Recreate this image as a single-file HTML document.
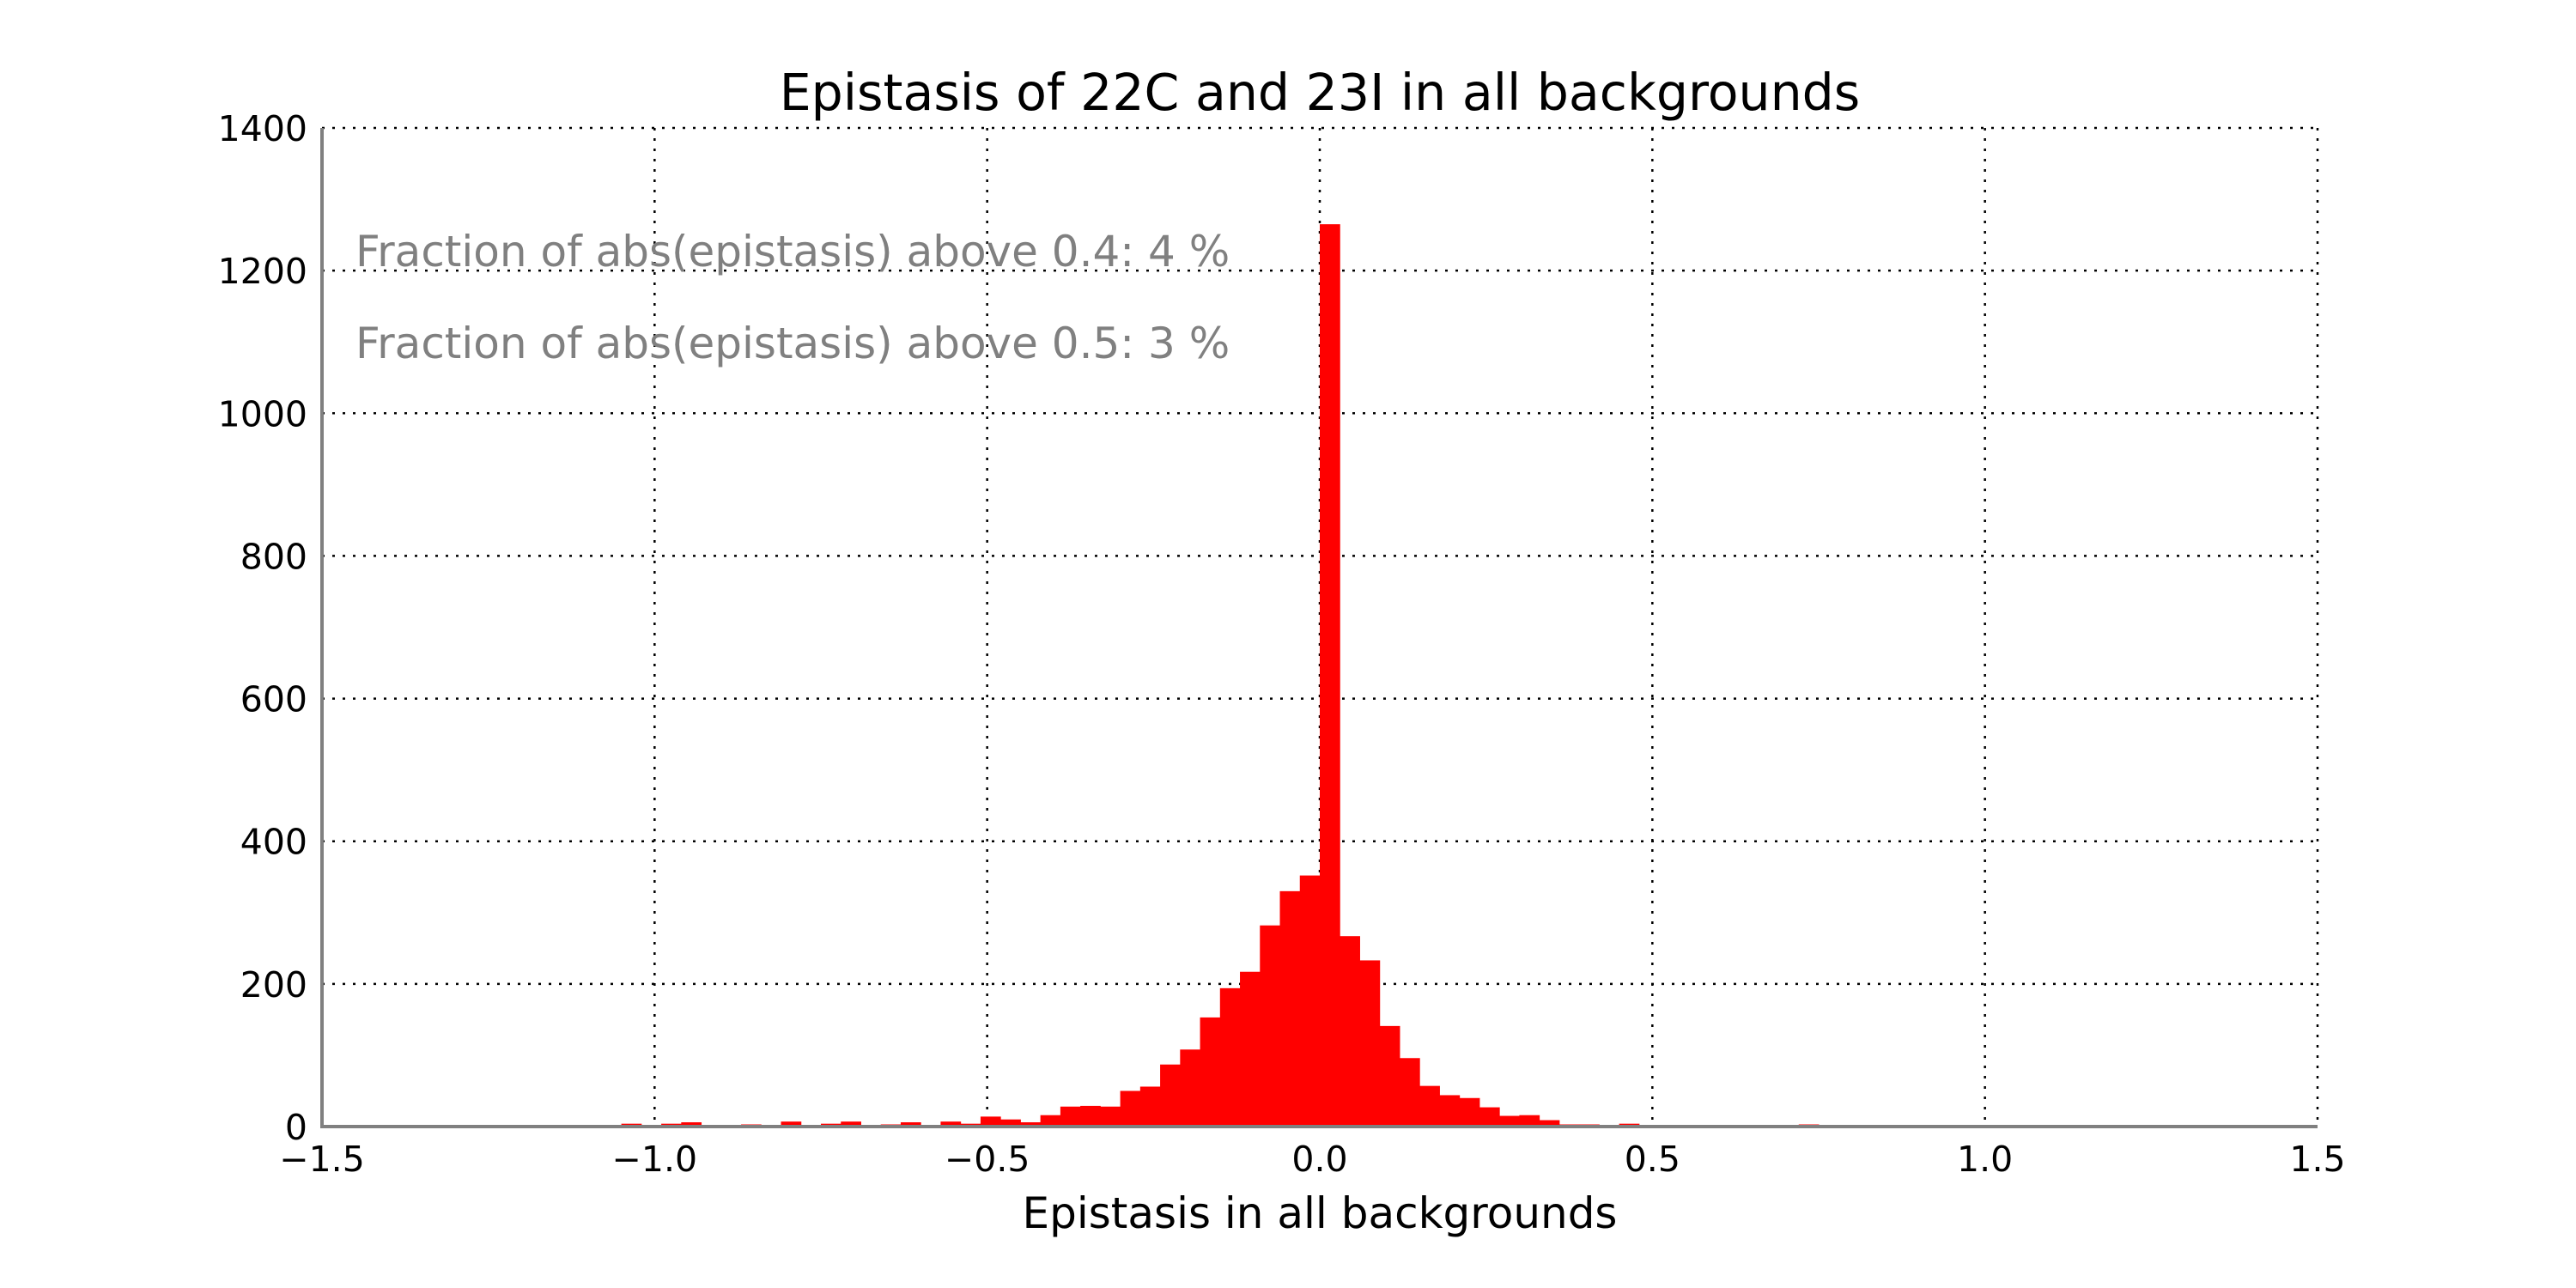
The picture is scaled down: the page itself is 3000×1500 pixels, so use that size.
<!DOCTYPE html>
<html><head><meta charset="utf-8"><style>html,body{margin:0;padding:0;background:#fff}svg{display:block}text{font-family:"DejaVu Sans","Liberation Sans",sans-serif}</style></head>
<body>
<svg id="chart" width="3000" height="1500" xmlns="http://www.w3.org/2000/svg">
<rect width="3000" height="1500" fill="#fff"/>
<text x="1537" y="128" font-size="58.5" text-anchor="middle">Epistasis of 22C and 23I in all backgrounds</text>
<g id="grid"></g>
<g id="bars"></g>
<g id="axes"></g>
<text x="414" y="310" font-size="50" fill="#808080">Fraction of abs(epistasis) above 0.4: 4 %</text>
<text x="414" y="417" font-size="50" fill="#808080">Fraction of abs(epistasis) above 0.5: 3 %</text>
<text x="1537" y="1430" font-size="50" text-anchor="middle">Epistasis in all backgrounds</text>
</svg>
<script>
const binStart = -1.05;
const binWidth = 0.03;
const counts = [4,0,4,6,0,2,3,0,7,2,4,7,2,3,6,2,7,4,14,10,6,16,28,29,28,50,56,87,108,153,194,217,282,330,352,
1265,267,233,141,96,57,44,40,27,15,16,9,3,3,2,4,0,0,0,0,0,0,0,0,3,0,0,0,0,0,1];
const xTicks = [-1.5,-1.0,-0.5,0.0,0.5,1.0,1.5];
const xTickLabels = ["\u22121.5","\u22121.0","\u22120.5","0.0","0.5","1.0","1.5"];
const yTicks = [0,200,400,600,800,1000,1200,1400];
const yTickLabels = ["0","200","400","600","800","1000","1200","1400"];

const L=375,R=2699,T=149,B=1312;
const xs=v=>L+(v+1.5)/3*(R-L);
const ys=v=>B-v/1400*(B-T);
const NS="http://www.w3.org/2000/svg";
function mk(tag,attrs,parent){const e=document.createElementNS(NS,tag);for(const k in attrs)e.setAttribute(k,attrs[k]);parent.appendChild(e);return e;}
const grid=document.getElementById('grid'),bars=document.getElementById('bars'),axes=document.getElementById('axes');
xTicks.forEach((t,i)=>{
  const g=mk('line',{x1:xs(t),x2:xs(t),y1:T,y2:B,stroke:'#000','stroke-width':2.5,'stroke-dasharray':'3 9'},grid);
  
  
  const lb=mk('text',{x:xs(t),y:1364,'font-size':41,'text-anchor':'middle'},axes);
  lb.textContent=xTickLabels[i];
  
  
});
yTicks.forEach((t,i)=>{
  const g=mk('line',{x1:L,x2:R,y1:ys(t),y2:ys(t),stroke:'#000','stroke-width':2.5,'stroke-dasharray':'3 9'},grid);
  
  
  const lb=mk('text',{x:358,y:ys(t)+15,'font-size':41,'text-anchor':'end'},axes);
  lb.textContent=yTickLabels[i];
  
  
});
counts.forEach((c,i)=>{
  if(c<=0)return;
  const x0=xs(binStart+i*binWidth),x1=xs(binStart+(i+1)*binWidth);
  const r=mk('rect',{x:x0,y:ys(c),width:x1-x0+0.5,height:B-ys(c),fill:'#ff0000'},bars);
  
  
});
const ax1=mk('line',{x1:L,x2:L,y1:T,y2:B+2,stroke:'#808080','stroke-width':4},axes);


const ax2=mk('line',{x1:L-2,x2:R,y1:B,y2:B,stroke:'#808080','stroke-width':4},axes);


</script>
</body></html>
